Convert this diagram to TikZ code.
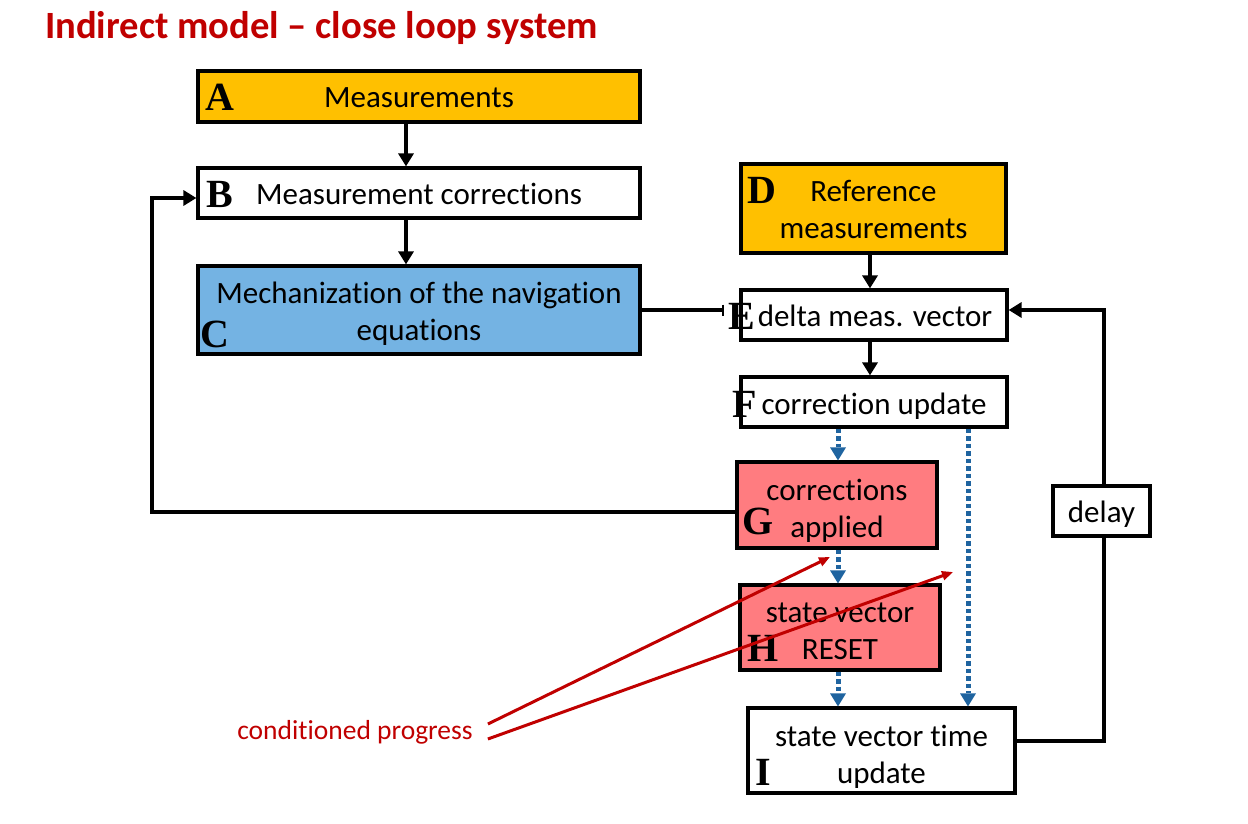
\documentclass[tikz,border=0pt]{standalone}
\usepackage{fontspec}
\setmainfont[Ligatures=NoCommon]{Carlito}
\newfontfamily\letterfont{Liberation Serif}
\usetikzlibrary{arrows.meta}
\definecolor{orangebox}{HTML}{FFC000}
\definecolor{bluebox}{HTML}{74B3E3}
\definecolor{redbox}{HTML}{FF7C80}
\definecolor{darkred}{HTML}{C00000}
\definecolor{dotblue}{HTML}{1F64A0}
\newcommand\tdown[2]{\raisebox{-#1}[\height][\depth]{\begin{tabular}{@{}c@{}}#2\end{tabular}}}
\tikzset{
  box/.style={draw=black,line width=3.2pt,inner sep=0pt,align=center,
    font=\fontsize{31}{37}\selectfont},
  letter/.style={inner sep=0pt,font=\letterfont\bfseries\fontsize{40}{40}\selectfont},
  arr/.style={line width=4.5pt,-{Triangle[length=13pt,width=15pt]}},
  plainline/.style={line width=4.5pt},
  dotarr/.style={draw=dotblue,line width=5pt,dash pattern=on 4.5pt off 3pt,
    -{Triangle[length=13pt,width=16pt,fill=dotblue,line width=0pt]}},
  redarr/.style={draw=darkred,line width=3pt,-{Triangle[length=11pt,width=9pt]}},
}
\begin{document}
\begin{tikzpicture}[x=1pt,y=-1pt]
\useasboundingbox (0,0) rectangle (1248,824);
\node[anchor=west,inner sep=0pt,text=darkred,font=\bfseries\fontsize{38.6}{40}\selectfont] (title) at (45,28) {Indirect model – close loop system};

\node[box,fill=orangebox,minimum width=442,minimum height=51] (A) at (419,96.5) {\tdown{4pt}{Measurements}};
\node[box,fill=white,minimum width=442,minimum height=50] (B) at (419,193) {\tdown{4pt}{Measurement corrections}};
\node[box,fill=bluebox,minimum width=442,minimum height=88] (C) at (419,310) {\tdown{5pt}{Mechanization of the navigation\\equations}};
\node[box,fill=orangebox,minimum width=265,minimum height=89] (D) at (873.5,208.5) {\tdown{4pt}{Reference\\measurements}};
\node[box,fill=white,minimum width=266,minimum height=50] (E) at (874,315) {\tdown{4pt}{\hspace*{2pt}delta meas. vector}};
\node[box,fill=white,minimum width=266,minimum height=50] (F) at (874,402) {\tdown{5pt}{correction update}};
\node[box,fill=redbox,minimum width=200,minimum height=86] (G) at (837,505) {\tdown{7pt}{corrections\\applied}};
\node[box,fill=redbox,minimum width=200,minimum height=85] (H) at (840,627.5) {\tdown{6pt}{state vector\\RESET}};
\node[box,fill=white,minimum width=267,minimum height=85] (I) at (881.5,750.5) {\tdown{7pt}{state vector time\\update}};
\node[box,fill=white,minimum width=97,minimum height=50] (delay) at (1101.5,511) {\tdown{4pt}{delay}};

\node[letter] (lA) at (220,97) {A};
\node[letter] (lB) at (220,194) {B};
\node[letter] (lC) at (215,334) {C};
\node[letter] (lD) at (762,190) {D};
\node[letter] (lE) at (742,316) {E};
\node[letter] (lF) at (745,404) {F};
\node[letter] (lG) at (758,521) {G};
\node[letter] (lH) at (763,648) {H};
\node[letter] (lI) at (763,772) {I};

\draw[arr] ([xshift=-13pt]A.south) -- ([xshift=-13pt]B.north);
\draw[arr] ([xshift=-13pt]B.south) -- ([xshift=-13pt]C.north);
\draw[arr] ([xshift=-3.5pt]D.south) -- ([xshift=-4pt]E.north);
\draw[arr] ([xshift=-4pt]E.south) -- ([xshift=-4pt]F.north);
\draw[plainline,-{Bar[width=11pt,line width=2.5pt]},shorten >=15pt] (C.east) -- (C.east -| E.west);

\coordinate (gb1) at (152,512);
\coordinate (gb2) at (152,198);
\draw[arr] ([yshift=-7pt]G.west) -- (gb1) -- (gb2) -- ([yshift=-5pt]B.west);

\draw[plainline] ([yshift=9.5pt]I.east) -| ([xshift=2.5pt]delay.south);
\draw[arr] ([xshift=2.5pt]delay.north) |- ([yshift=5pt]E.east);

\draw[dotarr] ([xshift=-36pt]F.south) -- ([xshift=1pt]G.north);
\draw[dotarr] ([xshift=1pt]G.south) -- ([xshift=-2pt]H.north);
\draw[dotarr] ([xshift=-2pt]H.south) -- ([xshift=-43.5pt]I.north);
\draw[dotarr] ([xshift=94pt]F.south) -- ([xshift=86.5pt]I.north);

\node[inner sep=0pt,text=darkred,font=\fontsize{27.5}{30}\selectfont] (cp) at (355,732) {conditioned progress};
\coordinate (t1) at (830,557);
\coordinate (t2) at (953,572);
\draw[redarr] ([shift={(15pt,8pt)}]cp.east) -- (t1);
\draw[redarr] ([shift={(15pt,-7pt)}]cp.east) -- (t2);
\end{tikzpicture}
\end{document}
